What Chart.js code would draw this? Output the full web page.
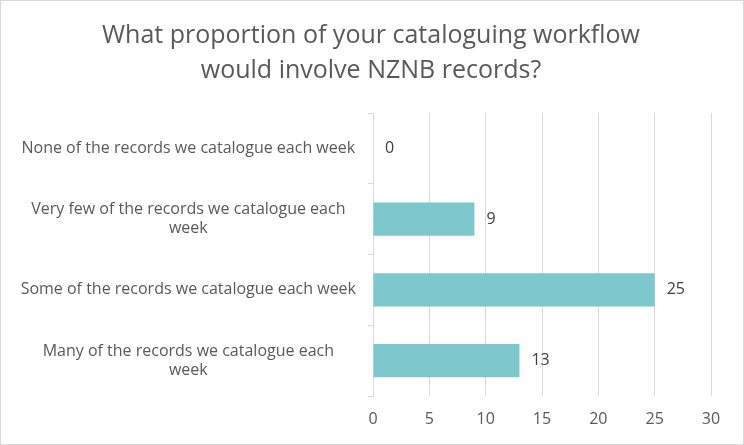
<!DOCTYPE html>
<html>
<head>
<meta charset="utf-8">
<script src="https://cdn.jsdelivr.net/npm/chart.js@4.4.0/dist/chart.umd.min.js"></script>
<style>
  html, body { margin: 0; padding: 0; background: #fff; }
  #wrap { width: 744px; height: 445px; }
</style>
</head>
<body>
<div id="wrap"><canvas id="proportionChart" width="744" height="445"></canvas></div>
<script>
// data
const titleLines = ['What proportion of your cataloguing workflow', 'would involve NZNB records?'];
const categories = [
    'None of the records we catalogue each week',
    ['Very few of the records we catalogue each', 'week'],
    'Some of the records we catalogue each week',
    ['Many of the records we catalogue each', 'week']
];
const counts = [0, 9, 25, 13];
const xTicks = [0, 5, 10, 15, 20, 25, 30];

const fontFamily = "'Open Sans', 'Liberation Sans', sans-serif";

// frame, white background and the two-line title centred on the whole canvas
const frame = {
    id: 'frame',
    beforeDraw(chart) {
        const c = chart.ctx;
        c.save();
        c.fillStyle = '#ffffff';
        c.fillRect(0, 0, chart.width, chart.height);
        c.strokeStyle = '#d9d9d9';
        c.lineWidth = 1;
        c.strokeRect(0.5, 0.5, chart.width - 1, chart.height - 1);
        c.fillStyle = '#595959';
        c.font = '25px ' + fontFamily;
        c.textAlign = 'center';
        c.textBaseline = 'alphabetic';
        titleLines.forEach((line, i) => {
            c.fillText(line, chart.width / 2 - 1, 43 + i * 35);
        });
        c.restore();
    }
};

// value labels at the end of each bar
const valueLabels = {
    id: 'valueLabels',
    afterDatasetsDraw(chart) {
        const c = chart.ctx;
        const meta = chart.getDatasetMeta(0);
        c.save();
        c.font = '16px ' + fontFamily;
        c.fillStyle = '#404040';
        c.textAlign = 'left';
        c.textBaseline = 'middle';
        meta.data.forEach((bar, i) => {
            c.fillText(String(counts[i]), bar.x + 12, bar.y);
        });
        c.restore();
    }
};

document.addEventListener("DOMContentLoaded", function () {
    const ctx = document.getElementById('proportionChart').getContext('2d');
    new Chart(ctx, {
        type: 'bar',
        data: {
            labels: categories,
            datasets: [{
                data: counts,
                backgroundColor: '#7dc8cc',
                borderWidth: 0,
                categoryPercentage: 1,
                barPercentage: 0.47
            }]
        },
        plugins: [frame, valueLabels],
        options: {
            indexAxis: 'y',
            responsive: false,
            animation: false,
            devicePixelRatio: 1,
            layout: { padding: { left: 10, right: 33, top: 113, bottom: 0 } },
            plugins: {
                legend: { display: false },
                tooltip: { enabled: false },
                title: { display: false }
            },
            scales: {
                x: {
                    min: 0,
                    max: 30,
                    afterBuildTicks: (scale) => { scale.ticks = xTicks.map(v => ({ value: v })); },
                    afterFit: (scale) => { scale.height = 49; },
                    grid: { color: '#d9d9d9', drawTicks: false },
                    border: { display: false },
                    ticks: {
                        color: '#595959',
                        padding: 14,
                        font: { family: fontFamily, size: 16 }
                    }
                },
                y: {
                    grid: { offset: true, drawOnChartArea: false, color: '#d9d9d9', tickLength: 5 },
                    border: { display: true, color: '#d9d9d9' },
                    afterFit: (scale) => { scale.width = 363; },
                    ticks: {
                        color: '#595959',
                        padding: 12,
                        crossAlign: 'center',
                        font: { family: fontFamily, size: 16, lineHeight: 1.2 }
                    }
                }
            }
        }
    });
});
</script>
</body>
</html>
